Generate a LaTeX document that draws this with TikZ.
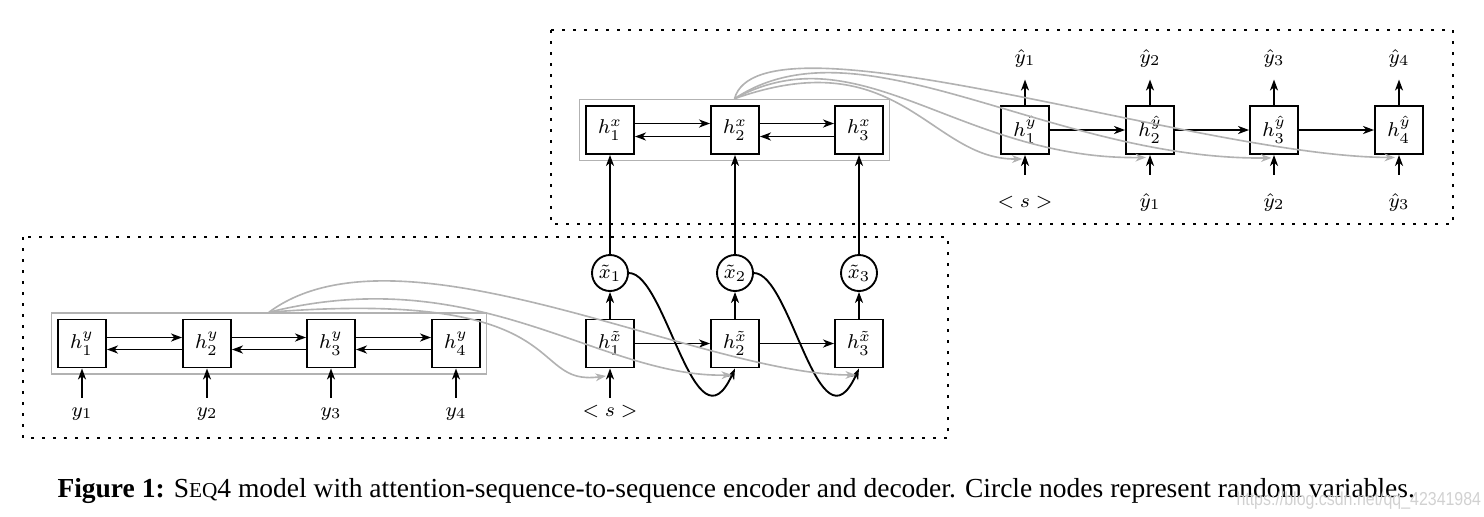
\documentclass[tikz,border=0pt]{standalone}
\usepackage{fontspec}
\newfontfamily\capfont{Liberation Serif}
\newfontfamily\wmfont{Liberation Sans}
\usetikzlibrary{arrows.meta,fit}
\tikzset{
  cell/.style={draw, line width=0.75pt, minimum size=19.2pt, inner sep=0pt},
  rv/.style={circle, draw, line width=0.75pt, minimum size=14.4pt, inner sep=0pt},
  arr/.style={line width=0.75pt, -{Stealth[length=4.4pt,width=3.2pt,inset=1.3pt]}},
  garr/.style={draw=black!30, line width=0.65pt, -{Stealth[length=4.2pt,width=3.1pt,inset=1.3pt]}},
  grp/.style={draw=black!30, line width=0.7pt, inner sep=2.2pt},
  frame/.style={line width=1.1pt, dash pattern=on 1.1pt off 3.3pt},
  lbl/.style={inner sep=0pt, text height=6pt, text depth=1.5pt, anchor=base}
}
\begin{document}
\begin{tikzpicture}[x=0.4pt,y=0.4pt, every node/.style={font=\fontsize{8}{10}\selectfont}]
\useasboundingbox (0,0) rectangle (1484,-516);

% frames
\draw[frame] (551,-30) rectangle (1453,-224);
\draw[frame] (23,-237) rectangle (948,-438);

% encoder over x (top)
\node[cell] (hx1) at (610,-130) {$h_1^{x}$};
\node[cell] (hx2) at (735,-130) {$h_2^{x}$};
\node[cell] (hx3) at (859,-130) {$h_3^{x}$};
\node[grp, fit=(hx1)(hx3)] (gx) {};

% decoder (top)
\node[cell] (hd1) at (1025,-130) {$h_1^{\hat{y}}$};
\node[cell] (hd2) at (1150,-130) {$h_2^{\hat{y}}$};
\node[cell] (hd3) at (1274,-130) {$h_3^{\hat{y}}$};
\node[cell] (hd4) at (1399,-130) {$h_4^{\hat{y}}$};
\node[lbl] (yo1) at (1025,-63) {$\hat{y}_1$};
\node[lbl] (yo2) at (1150,-63) {$\hat{y}_2$};
\node[lbl] (yo3) at (1274,-63) {$\hat{y}_3$};
\node[lbl] (yo4) at (1399,-63) {$\hat{y}_4$};
\node[lbl] (yi1) at (1025,-207) {$<s>$};
\node[lbl] (yi2) at (1150,-207) {$\hat{y}_1$};
\node[lbl] (yi3) at (1274,-207) {$\hat{y}_2$};
\node[lbl] (yi4) at (1399,-207) {$\hat{y}_3$};

% encoder over y (bottom)
\node[cell] (hy1) at (82,-343.5) {$h_1^{y}$};
\node[cell] (hy2) at (207,-343.5) {$h_2^{y}$};
\node[cell] (hy3) at (331,-343.5) {$h_3^{y}$};
\node[cell] (hy4) at (456,-343.5) {$h_4^{y}$};
\node[grp, fit=(hy1)(hy4)] (gy) {};
\node[lbl] (y1) at (82,-416) {$y_1$};
\node[lbl] (y2) at (207,-416) {$y_2$};
\node[lbl] (y3) at (331,-416) {$y_3$};
\node[lbl] (y4) at (456,-416) {$y_4$};

% decoder over x-tilde (bottom)
\node[cell] (ht1) at (610,-343.5) {$h_1^{\tilde{x}}$};
\node[cell] (ht2) at (735,-343.5) {$h_2^{\tilde{x}}$};
\node[cell] (ht3) at (859,-343.5) {$h_3^{\tilde{x}}$};
\node[rv] (xt1) at (610,-273) {$\tilde{x}_1$};
\node[rv] (xt2) at (735,-273) {$\tilde{x}_2$};
\node[rv] (xt3) at (859,-273) {$\tilde{x}_3$};
\node[lbl] (s0) at (610,-416) {$<s>$};

% bidirectional arrows (top encoder)
\foreach \a/\b in {hx1/hx2,hx2/hx3}{
  \draw[arr] ([yshift=2.6pt]\a.east) -- ([yshift=2.6pt]\b.west);
  \draw[arr] ([yshift=-2.6pt]\b.west) -- ([yshift=-2.6pt]\a.east);
}
% bidirectional arrows (bottom encoder)
\foreach \a/\b in {hy1/hy2,hy2/hy3,hy3/hy4}{
  \draw[arr] ([yshift=2.4pt]\a.east) -- ([yshift=2.4pt]\b.west);
  \draw[arr] ([yshift=-2.4pt]\b.west) -- ([yshift=-2.4pt]\a.east);
}
% decoder chains
\draw[arr] (hd1) -- (hd2);
\draw[arr] (hd2) -- (hd3);
\draw[arr] (hd3) -- (hd4);
\draw[arr] (ht1) -- (ht2);
\draw[arr] (ht2) -- (ht3);

% inputs / outputs
\foreach \i in {1,2,3,4}{
  \draw[arr, shorten >=4.9pt] (hd\i) -- (yo\i);
  \draw[arr, shorten <=6.8pt] (yi\i) -- (hd\i);
  \draw[arr, shorten <=1.2pt] (y\i) -- (hy\i);
}
\draw[arr, shorten <=1.2pt] (s0) -- (ht1);
\foreach \i in {1,2,3}{
  \draw[arr] (ht\i) -- (xt\i);
  \draw[arr] (xt\i) -- (hx\i);
}

% sampled-token feedback curves
\draw[arr] (xt1.east) .. controls +(37,0) and +(-40,-88) .. (ht2.south);
\draw[arr] (xt2.east) .. controls +(37,0) and +(-40,-88) .. (ht3.south);

% attention curves (bottom)
\draw[garr] (gy.north) .. controls (580,-288) and (525,-387) .. ([xshift=-1.6pt,yshift=-3.0pt]ht1.south);
\draw[garr] (gy.north) .. controls (480,-260) and (600,-378) .. ([xshift=-1.2pt,yshift=-2.6pt]ht2.south);
\draw[garr] (gy.north) .. controls (400,-215) and (700,-375) .. ([xshift=-1.2pt,yshift=-2.6pt]ht3.south);

% attention curves (top)
\draw[garr] (gx.north) .. controls (900,-40) and (930,-160) .. ([xshift=-1.0pt,yshift=-1.6pt]hd1.south);
\draw[garr] (gx.north) .. controls (860,-30) and (960,-160) .. ([xshift=-1.6pt,yshift=-1.0pt]hd2.south);
\draw[garr] (gx.north) .. controls (860,-15) and (1050,-160) .. ([xshift=-1.0pt,yshift=-1.2pt]hd3.south);
\draw[garr] (gx.north) .. controls (760,-5) and (1200,-157) .. ([xshift=-1.6pt,yshift=-1.0pt]hd4.south);

% caption
\node[anchor=base west, inner sep=0pt, font=\capfont\fontsize{11}{13}\selectfont] (cap) at (57,-497)
  {\textbf{Figure 1:} S{\fontsize{8.5}{10}\selectfont EQ}4 model with attention-sequence-to-sequence encoder and decoder. Circle nodes represent random variables.};
\node[anchor=base west, inner sep=0pt, text=black!18, font=\wmfont\fontsize{7.5}{9}\selectfont] (wm) at (1236,-505)
  {\scalebox{0.85}[1]{https://blog.csdn.net/qq\_42341984}};
\end{tikzpicture}
\end{document}
